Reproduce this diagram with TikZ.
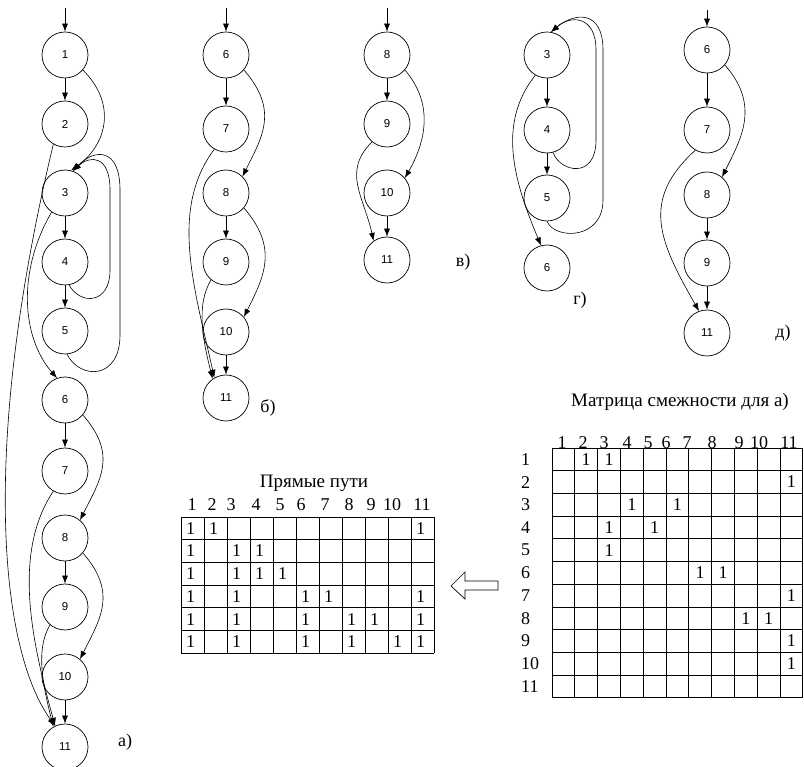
\documentclass[tikz,border=0pt]{standalone}
\usepackage{fontspec}
\setmainfont{Liberation Serif}
\newfontfamily\lsans{Liberation Sans}
\usetikzlibrary{arrows.meta}
\begin{document}
\begin{tikzpicture}[x=1pt,y=-1pt,
  vtx/.style={draw,circle,minimum size=46pt,inner sep=0pt,font=\lsans\fontsize{11.5}{12}\selectfont,line width=0.7pt},
  arr/.style={-{Latex[length=8pt,width=6pt]},line width=0.6pt},
  lnk/.style={line width=0.6pt},
  lbl/.style={font=\fontsize{18}{20}\selectfont,inner sep=0pt},
  cell/.style={font=\fontsize{18}{20}\selectfont,inner sep=0pt},
  ttl/.style={font=\fontsize{19}{21}\selectfont,inner sep=0pt},
  gl/.style={line width=0.7pt}]
\useasboundingbox (0,0) rectangle (804,767);

% ---------- graph a)
\foreach \n/\y in {1/55,2/124,3/193,4/262,5/331,6/400,7/471,8/538,9/607,10/677,11/747}
  \node[vtx] (a\n) at (65,\y) {\n};
\coordinate (a0) at (65,8);
\draw[arr] (a0) -- (a1);
\draw[arr] (a1) -- (a2);
\draw[arr] (a3) -- (a4);
\draw[arr] (a4) -- (a5);
\draw[arr] (a6) -- (a7);
\draw[arr] (a8) -- (a9);
\draw[arr] (a10) -- (a11);
\draw[arr] (a1.-40) .. controls +(35,35) and +(35,-25) .. (a3.75);
\draw[arr] (a2.-120) .. controls (-20,450) and (0,650) .. (a11.115);
\draw[arr] (a3.-125) .. controls +(-35,60) and +(-35,-40) .. (a6.110);
\draw[arr] (a4.-80) .. controls (80,305) and (110,305) .. (110,270) -- (110,190) .. controls (110,155) and (90,155) .. (a3.70);
\draw[arr] (a5.-85) .. controls (80,380) and (120,380) .. (120,335) -- (120,190) .. controls (120,148) and (95,148) .. (a3.70);
\draw[arr] (a6.-40) .. controls +(35,40) and +(20,-40) .. (a8.50);
\draw[arr] (a8.-40) .. controls +(35,40) and +(20,-40) .. (a10.50);
\draw[arr] (a7.-120) .. controls +(-40,60) and +(-25,-90) .. (a11.115);
\draw[arr] (a9.-130) .. controls +(-15,25) and +(-10,-40) .. (a11.120);
\node[lbl] (la) at (125,742) {а)};

% ---------- graph б)
\foreach \n/\y in {6/55,7/129,8/193,9/262,10/332,11/398}
  \node[vtx] (b\n) at (226,\y) {\n};
\coordinate (b0) at (226,8);
\draw[arr] (b0) -- (b6);
\draw[arr] (b6) -- (b7);
\draw[arr] (b8) -- (b9);
\draw[arr] (b10) -- (b11);
\draw[arr] (b6.-40) .. controls +(35,40) and +(20,-40) .. (b8.45);
\draw[arr] (b8.-40) .. controls +(35,40) and +(20,-40) .. (b10.40);
\draw[arr] (b7.-120) .. controls +(-45,60) and +(-20,-90) .. (b11.120);
\draw[arr] (b9.-130) .. controls +(-15,25) and +(-10,-40) .. (b11.125);
\node[lbl] (lb) at (268,408) {б)};

% ---------- graph в)
\foreach \n/\y in {8/55,9/124,10/193,11/260}
  \node[vtx] (c\n) at (387,\y) {\n};
\coordinate (c0) at (387,8);
\draw[arr] (c0) -- (c8);
\draw[arr] (c8) -- (c9);
\draw[arr] (c10) -- (c11);
\draw[arr] (c8.-40) .. controls +(30,35) and +(20,-35) .. (c10.40);
\draw[arr] (c9.-130) .. controls +(-30,30) and +(-10,-45) .. (c11.125);
\node[lbl] (lc) at (463,262) {в)};

% ---------- graph г)
\foreach \n/\y in {3/55,4/130,5/198,6/268}
  \node[vtx] (d\n) at (547,\y) {\n};
\draw[arr] (d3) -- (d4);
\draw[arr] (d4) -- (d5);
\draw[arr] (d4.-75) .. controls (560,172) and (596,180) .. (596,140) -- (596,50) .. controls (596,15) and (570,15) .. (d3.80);
\draw[arr] (d5.-90) .. controls (555,240) and (603,240) .. (603,200) -- (603,50) .. controls (603,10) and (575,12) .. (d3.80);
\draw[arr] (d3.-120) .. controls +(-40,50) and +(-25,-60) .. (d6.105);
\node[lbl] (ld) at (580,300) {г)};

% ---------- graph д)
\foreach \n/\y in {6/50,7/130,8/195,9/263,11/333}
  \node[vtx] (e\n) at (707,\y) {\n};
\coordinate (e0) at (707,10);
\draw[arr] (e0) -- (e6);
\draw[arr] (e6) -- (e7);
\draw[arr] (e8) -- (e9);
\draw[arr] (e9) -- (e11);
\draw[arr] (e6.-40) .. controls +(35,40) and +(20,-40) .. (e8.50);
\draw[arr] (e7.-120) .. controls +(-55,50) and +(-40,-70) .. (e11.110);
\node[lbl] (le) at (783,333) {д)};

% ---------- adjacency matrix
\node[ttl] (mt) at (680,402) {Матрица смежности для а)};
\foreach \c/\x in {1/562,2/583,3/604,4/627,5/648,6/666,7/687,8/712,9/739,10/759,11/789}
  \node[cell] (mh\c) at (\x,443) {\c};
\foreach \i in {0,...,11} {
  \draw[gl] ({552+22.8*\i},448) -- ({552+22.8*\i},697.7);
  \draw[gl] (552,{448+22.7*\i}) -- (802.8,{448+22.7*\i});
}
\foreach \r in {1,...,11}
  \node[cell,anchor=west] (mr\r) at (521,{448+22.7*(\r-0.5)}) {\r};
\foreach \r/\c in {1/2,1/3,2/11,3/4,3/6,4/3,4/5,5/3,6/7,6/8,7/11,8/9,8/10,9/11,10/11}
  \node[cell] (m\r-\c) at ({552+22.8*(\c-0.5)},{448+22.7*(\r-0.5)}) {1};

% ---------- direct paths table
\node[ttl] (pt) at (314,483) {Прямые пути};
\foreach \c/\x in {1/192,2/212,3/231,4/256,5/280,6/301,7/325,8/349,9/371,10/392,11/422}
  \node[cell] (ph\c) at (\x,505) {\c};
\foreach \i in {0,...,11}
  \draw[gl] ({181+23*\i},517) -- ({181+23*\i},653.2);
\foreach \j in {0,...,6}
  \draw[gl] (181,{517+22.7*\j}) -- (434,{517+22.7*\j});
\foreach \r/\c in {1/1,1/2,1/11,2/1,2/3,2/4,3/1,3/3,3/4,3/5,4/1,4/3,4/6,4/7,4/11,5/1,5/3,5/6,5/8,5/9,5/11,6/1,6/3,6/6,6/8,6/10,6/11}
  \node[cell] (p\r-\c) at ({181+23*(\c-0.5)-2},{517+22.7*(\r-0.5)}) {1};

% ---------- hollow arrow
\draw[line width=0.7pt] (498,581) -- (465,581) -- (465,572) -- (451,586) -- (465,599) -- (465,590) -- (498,590) -- cycle;
\end{tikzpicture}
\end{document}
